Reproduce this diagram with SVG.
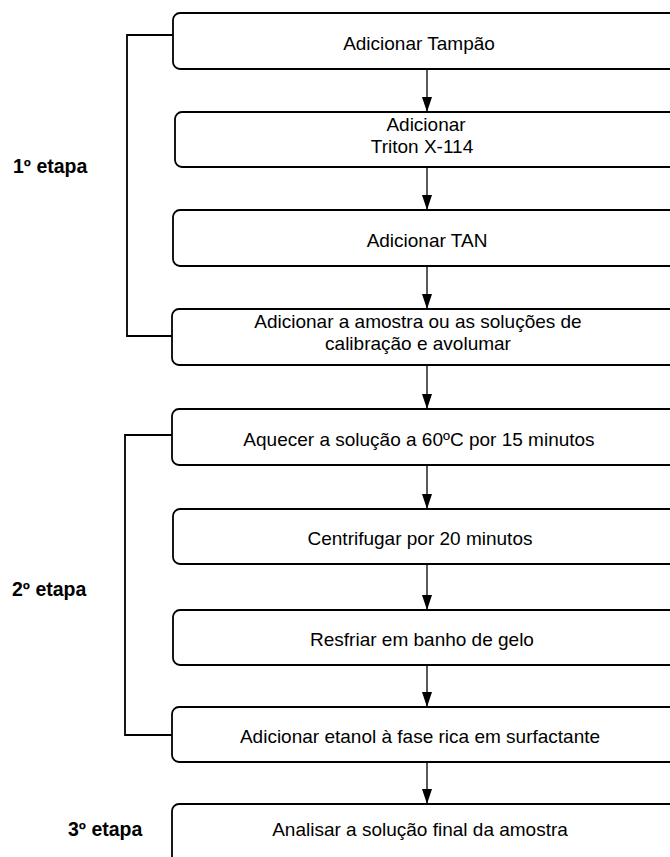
<svg xmlns="http://www.w3.org/2000/svg" width="670" height="857" viewBox="0 0 670 857">
<style>
.box{fill:#fff;stroke:#000;stroke-width:1.8}
.t{font-family:"Liberation Sans",Arial,sans-serif;font-size:19px;text-anchor:middle;fill:#000}
.lbl{font-family:"Liberation Sans",Arial,sans-serif;font-size:19.5px;font-weight:bold;fill:#000}
.c{stroke:#000;stroke-width:1.3;fill:none}
.br{stroke:#000;stroke-width:1.8;fill:none}
</style>
<defs>
<marker id="ah" viewBox="0 0 15 10" refX="15" refY="5" markerWidth="15" markerHeight="10" markerUnits="userSpaceOnUse" orient="auto">
<path d="M0,0 L15,5 L0,10 Z" fill="#000"/>
</marker>
</defs>
<rect width="670" height="857" fill="#fff"/>
<g id="connectors">
<line class="c" x1="427" y1="69" x2="427" y2="112" marker-end="url(#ah)"/>
<line class="c" x1="427" y1="167" x2="427" y2="210" marker-end="url(#ah)"/>
<line class="c" x1="427" y1="266" x2="427" y2="309" marker-end="url(#ah)"/>
<line class="c" x1="427" y1="365" x2="427" y2="409" marker-end="url(#ah)"/>
<line class="c" x1="427" y1="465" x2="427" y2="509" marker-end="url(#ah)"/>
<line class="c" x1="427" y1="564" x2="427" y2="610" marker-end="url(#ah)"/>
<line class="c" x1="427" y1="665" x2="427" y2="707" marker-end="url(#ah)"/>
<line class="c" x1="427" y1="762" x2="427" y2="804" marker-end="url(#ah)"/>
<polyline class="br" points="173,35 127,35 127,336 172,336"/>
<polyline class="br" points="172,435 125,435 125,735 172,735"/>
</g>
<g id="n1"><rect class="box" x="173" y="13" width="520" height="56" rx="7"/><text class="t" x="419" y="50">Adicionar Tampão</text></g>
<g id="n2"><rect class="box" x="175" y="112" width="520" height="55" rx="7"/><text class="t" x="426" y="131">Adicionar</text><text class="t" x="422" y="153">Triton X-114</text></g>
<g id="n3"><rect class="box" x="173" y="210" width="520" height="56" rx="7"/><text class="t" x="427" y="247">Adicionar TAN</text></g>
<g id="n4"><rect class="box" x="172" y="309" width="520" height="56" rx="7"/><text class="t" x="418" y="328">Adicionar a amostra ou as soluções de</text><text class="t" x="418" y="350">calibração e avolumar</text></g>
<g id="n5"><rect class="box" x="172" y="409" width="520" height="56" rx="7"/><text class="t" x="419" y="446">Aquecer a solução a 60ºC por 15 minutos</text></g>
<g id="n6"><rect class="box" x="173" y="509" width="520" height="55" rx="7"/><text class="t" x="420" y="545">Centrifugar por 20 minutos</text></g>
<g id="n7"><rect class="box" x="173" y="610" width="520" height="55" rx="7"/><text class="t" x="422" y="646">Resfriar em banho de gelo</text></g>
<g id="n8"><rect class="box" x="172" y="707" width="520" height="55" rx="7"/><text class="t" x="420" y="743">Adicionar etanol à fase rica em surfactante</text></g>
<g id="n9"><rect class="box" x="172" y="804" width="520" height="70" rx="7"/><text class="t" x="420" y="836">Analisar a solução final da amostra</text></g>
<g id="labels">
<text class="lbl" x="13" y="173">1º etapa</text>
<text class="lbl" x="12" y="596">2º etapa</text>
<text class="lbl" x="68" y="836">3º etapa</text>
</g>
</svg>
